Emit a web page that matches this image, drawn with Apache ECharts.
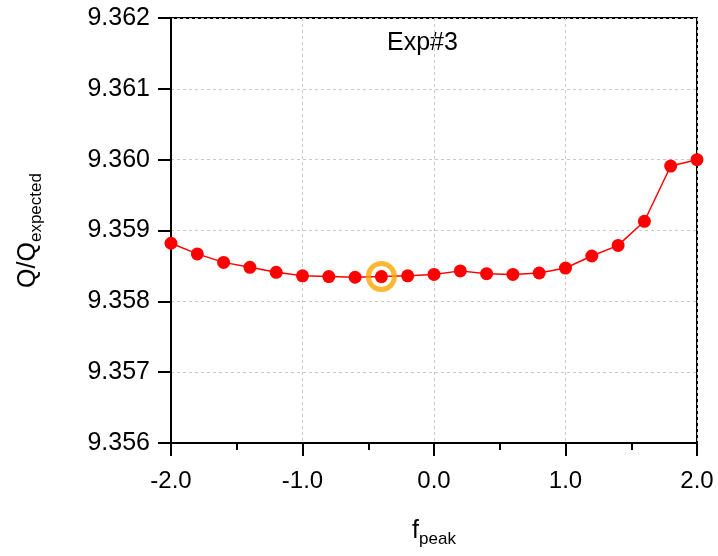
<!DOCTYPE html>
<html><head><meta charset="utf-8">
<script src="https://cdn.jsdelivr.net/npm/echarts@6/dist/echarts.min.js"></script>
<style>html,body{margin:0;padding:0;background:#fff}#c{width:718px;height:556px}</style>
</head><body><div id="c"></div>
<script>
const fPeak = [-2.0,-1.8,-1.6,-1.4,-1.2,-1.0,-0.8,-0.6,-0.4,-0.2,0.0,0.2,0.4,0.6,0.8,1.0,1.2,1.4,1.6,1.8,2.0];
const qRatio = [9.35882,9.35867,9.35855,9.35848,9.35841,9.35836,9.35835,9.35834,9.35835,9.35836,9.35838,9.35843,9.35839,9.35838,9.35840,9.35847,9.35864,9.35879,9.35913,9.35991,9.36000];
const highlightX = [-0.4];
const highlightY = [9.35835];
const annotation = 'Exp#3';
const FONT = '"Liberation Sans", Arial, sans-serif';

const nameRich = {
  a:{fontSize:25,fontFamily:FONT,color:'#000',lineHeight:34,verticalAlign:'middle'},
  b:{fontSize:17,fontFamily:FONT,color:'#000',lineHeight:34,verticalAlign:'bottom',padding:[14,0,0,0]}
};

const chart = echarts.init(document.getElementById('c'), null, {renderer:'canvas'});
chart.setOption({
  animation:false,
  backgroundColor:'#fff',
  grid:{left:171,right:21,top:18,bottom:113,show:true,borderColor:'#000',borderWidth:2,backgroundColor:'transparent'},
  xAxis:{
    type:'value',min:-2,max:2,interval:1,
    name:'{a|f}{b|peak}',nameLocation:'middle',nameGap:71,
    nameTextStyle:{rich:nameRich},
    axisLine:{onZero:false,lineStyle:{color:'#000',width:2}},
    axisTick:{length:13,lineStyle:{color:'#000',width:2}},
    minorTick:{show:true,splitNumber:2,length:7,lineStyle:{color:'#000',width:2}},
    axisLabel:{fontSize:24,fontFamily:FONT,color:'#000',margin:26,formatter:v=>v.toFixed(1)},
    splitLine:{show:true,lineStyle:{color:'#c8c8c8',type:[3,3],width:1}}
  },
  yAxis:{
    type:'value',min:9.356,max:9.362,interval:0.001,
    name:'{a|Q/Q}{b|expected}',nameLocation:'middle',nameRotate:90,nameGap:126,
    nameTextStyle:{rich:nameRich},
    axisLine:{onZero:false,lineStyle:{color:'#000',width:2}},
    axisTick:{length:13,lineStyle:{color:'#000',width:2}},
    axisLabel:{fontSize:25,fontFamily:FONT,color:'#000',margin:21,formatter:v=>v.toFixed(3)},
    splitLine:{show:true,lineStyle:{color:'#c8c8c8',type:[3,3],width:1}}
  },
  graphic:[{type:'text',left:387,top:31,style:{text:annotation,fontSize:25,fontFamily:FONT,fill:'#000'}}],
  series:[
    {type:'line',data:fPeak.map((x,i)=>[x,qRatio[i]]),symbol:'circle',symbolSize:13,
     lineStyle:{color:'#ff0000',width:1.5},itemStyle:{color:'#ff0000'},z:3},
    {type:'scatter',data:highlightX.map((x,i)=>[x,highlightY[i]]),symbol:'circle',symbolSize:26,
     itemStyle:{color:'rgba(0,0,0,0)',borderColor:'#F9A602',borderWidth:5},z:4}
  ]
});
</script></body></html>
